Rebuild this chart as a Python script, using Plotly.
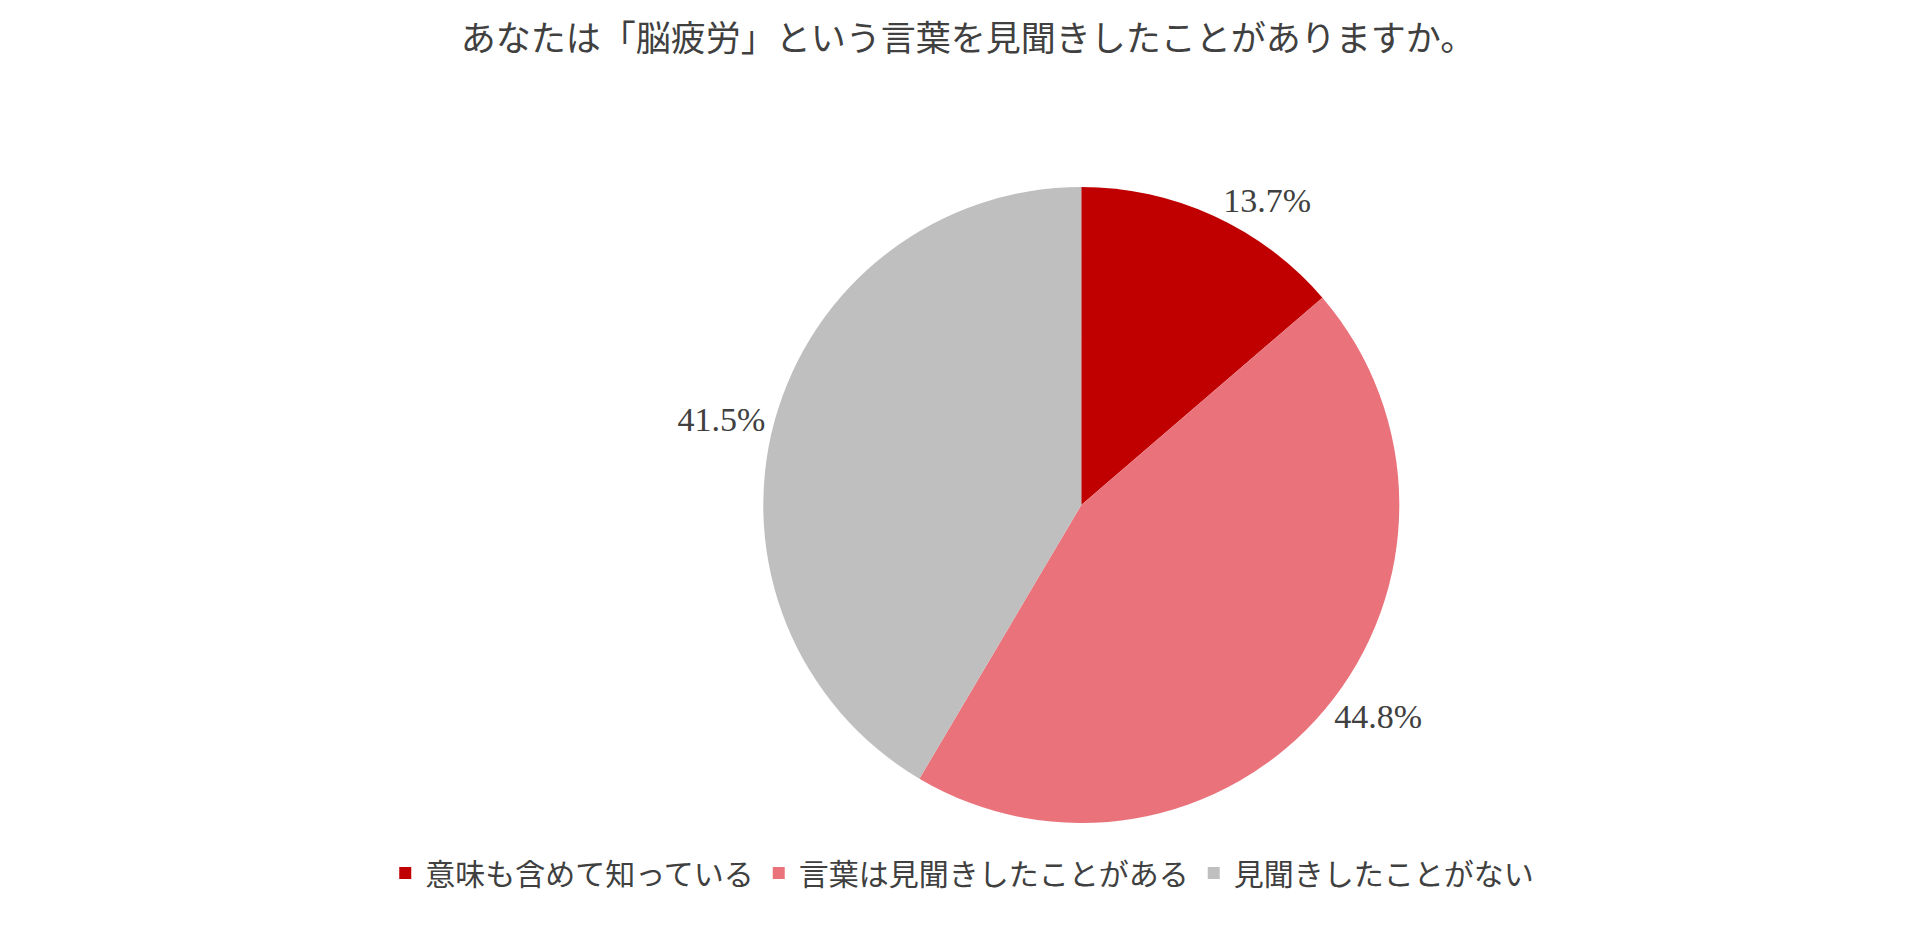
import plotly.graph_objects as go

title_text = "あなたは「脳疲労」という言葉を見聞きしたことがありますか。"
labels = ["意味も含めて知っている", "言葉は見聞きしたことがある", "見聞きしたことがない"]
values = [13.7, 44.8, 41.5]
colors = ["#C00000", "#EA737B", "#BFBFBF"]

cjk = "Noto Sans CJK JP"
num_font = "Liberation Serif"

fig = go.Figure(go.Pie(
    labels=labels,
    values=values,
    sort=False,
    direction="clockwise",
    rotation=0,
    marker=dict(colors=colors, line=dict(width=0)),
    textposition="outside",
    texttemplate="%{value:.1f}%",
    textfont=dict(family=num_font, size=34, color="#404040"),
    domain=dict(x=[0.309, 0.809], y=[0.1439, 0.812]),
    showlegend=True,
    hoverinfo="label+value",
))

fig.update_layout(
    width=1920,
    height=952,
    paper_bgcolor="white",
    plot_bgcolor="white",
    margin=dict(l=0, r=0, t=0, b=0, autoexpand=False),
    title=dict(
        text=title_text,
        x=0.5, xanchor="center",
        y=1 - 31 / 952, yanchor="middle",
        font=dict(family=cjk, size=35, color="#404040"),
    ),
    legend=dict(
        orientation="h",
        x=0.497, xanchor="center",
        y=1 - 865 / 952, yanchor="middle",
        font=dict(family=cjk, size=30, color="#404040"),
        itemwidth=30,
        traceorder="normal",
    ),
)

fig.write_html("out.html")
